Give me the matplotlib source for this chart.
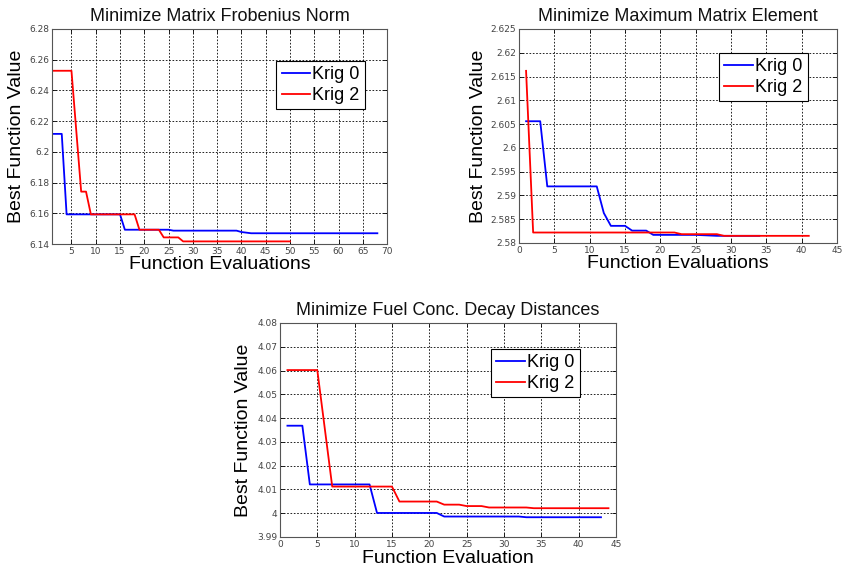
import matplotlib
matplotlib.use("Agg")
import matplotlib.pyplot as plt
from matplotlib.ticker import FuncFormatter

# --- data (evaluation number, best value so far) ---
frob_k0_x = [1, 3, 4, 15, 16, 25, 26, 39, 40, 42, 68]
frob_k0_y = [6.2117, 6.2117, 6.1593, 6.1593, 6.1493, 6.1493, 6.1487, 6.1487, 6.1478, 6.1470, 6.1470]
frob_k2_x = [1, 5, 7, 8, 9, 18, 19, 23, 24, 27, 28, 50]
frob_k2_y = [6.2528, 6.2528, 6.1741, 6.1741, 6.1593, 6.1593, 6.1493, 6.1493, 6.1443, 6.1443, 6.1417, 6.1417]

maxel_k0_x = [1, 3, 4, 11, 12, 13, 15, 16, 18, 19, 25, 28, 34]
maxel_k0_y = [2.6056, 2.6056, 2.5919, 2.5919, 2.5863, 2.5836, 2.5836, 2.5826, 2.5826,
              2.5817, 2.5817, 2.5815, 2.5815]
maxel_k2_x = [1, 2, 22, 23, 28, 29, 41]
maxel_k2_y = [2.6162, 2.5822, 2.5822, 2.58185, 2.58185, 2.5815, 2.5815]

fuel_k0_x = [1, 3, 4, 12, 13, 21, 22, 32, 33, 43]
fuel_k0_y = [4.0368, 4.0368, 4.0121, 4.0121, 4.0001, 4.0001, 3.9986, 3.9986, 3.9983, 3.9983]
fuel_k2_x = [1, 5, 7, 15, 16, 21, 22, 24, 25, 27, 28, 33, 34, 44]
fuel_k2_y = [4.0602, 4.0602, 4.0112, 4.0112, 4.0049, 4.0049, 4.0036, 4.0036, 4.0030, 4.0030,
             4.0024, 4.0024, 4.0021, 4.0021]

labels = ["Krig 0", "Krig 2"]

frob_xticks = [5, 10, 15, 20, 25, 30, 35, 40, 45, 50, 55, 60, 65, 70]
frob_yticks = [6.14, 6.16, 6.18, 6.2, 6.22, 6.24, 6.26, 6.28]
maxel_xticks = [0, 5, 10, 15, 20, 25, 30, 35, 40, 45]
maxel_yticks = [2.58, 2.585, 2.59, 2.595, 2.6, 2.605, 2.61, 2.615, 2.62, 2.625]
fuel_xticks = [0, 5, 10, 15, 20, 25, 30, 35, 40, 45]
fuel_yticks = [3.99, 4.0, 4.01, 4.02, 4.03, 4.04, 4.05, 4.06, 4.07, 4.08]

FONT = "Liberation Sans"


def draw_panel(ax, k0x, k0y, k2x, k2y, title, xlabel, xlim, ylim, xticks, yticks,
               ylab_x, xlab_y, leg_pos):
    ax.plot(k0x, k0y, color="#0000ff", lw=1.3, label=labels[0])
    ax.plot(k2x, k2y, color="#ff0000", lw=1.3, label=labels[1])
    ax.set_xlim(*xlim)
    ax.set_ylim(*ylim)
    ax.set_xticks(xticks)
    ax.set_yticks(yticks)
    # matlab-style short tick labels (6.2, 4, 2.585)
    fmt = FuncFormatter(lambda v, p: "%g" % round(v, 4))
    ax.xaxis.set_major_formatter(fmt)
    ax.yaxis.set_major_formatter(fmt)
    ax.tick_params(direction="in", length=3, width=0.6, labelsize=6.5,
                   labelcolor="#444444", top=True, right=True, pad=2)
    ax.grid(True, color="black", linestyle=(0, (2, 2)), linewidth=0.6)
    for s in ax.spines.values():
        s.set_color("#555555")
        s.set_linewidth(0.8)
    ax.set_title(title, fontsize=13, family=FONT, pad=6, color="#111111")
    ax.set_xlabel(xlabel, fontsize=14, family=FONT)
    ax.set_ylabel("Best Function Value", fontsize=14, family=FONT)
    ax.yaxis.set_label_coords(ylab_x, 0.5)
    ax.xaxis.set_label_coords(0.5, xlab_y)
    leg = ax.legend(loc="upper left", bbox_to_anchor=leg_pos, fancybox=False,
                    framealpha=1, edgecolor="black", handlelength=1.6,
                    handletextpad=0.1, borderpad=0.3, labelspacing=0.2,
                    borderaxespad=0, prop={"family": FONT, "size": 13})
    leg.get_frame().set_linewidth(0.8)


def main():
    fig = plt.figure(figsize=(8.42, 5.74), dpi=100)

    ax1 = fig.add_axes([0.0618, 0.5749, 0.3979, 0.3746])
    draw_panel(ax1, frob_k0_x, frob_k0_y, frob_k2_x, frob_k2_y,
               "Minimize Matrix Frobenius Norm", "Function Evaluations",
               (1, 70), (6.14, 6.28), frob_xticks, frob_yticks,
               -0.08, -0.056, (0.669, 0.851))

    ax2 = fig.add_axes([0.6164, 0.5767, 0.3777, 0.3728])
    draw_panel(ax2, maxel_k0_x, maxel_k0_y, maxel_k2_x, maxel_k2_y,
               "Minimize Maximum Matrix Element", "Function Evaluations",
               (0, 45), (2.58, 2.625), maxel_xticks, maxel_yticks,
               -0.10, -0.056, (0.629, 0.888))

    ax3 = fig.add_axes([0.3325, 0.0645, 0.3990, 0.3728])
    draw_panel(ax3, fuel_k0_x, fuel_k0_y, fuel_k2_x, fuel_k2_y,
               "Minimize Fuel Conc. Decay Distances", "Function Evaluation",
               (0, 45), (3.99, 4.08), fuel_xticks, fuel_yticks,
               -0.083, -0.061, (0.628, 0.879))

    fig.savefig("out.png", dpi=100, facecolor="white")


if __name__ == "__main__":
    main()
